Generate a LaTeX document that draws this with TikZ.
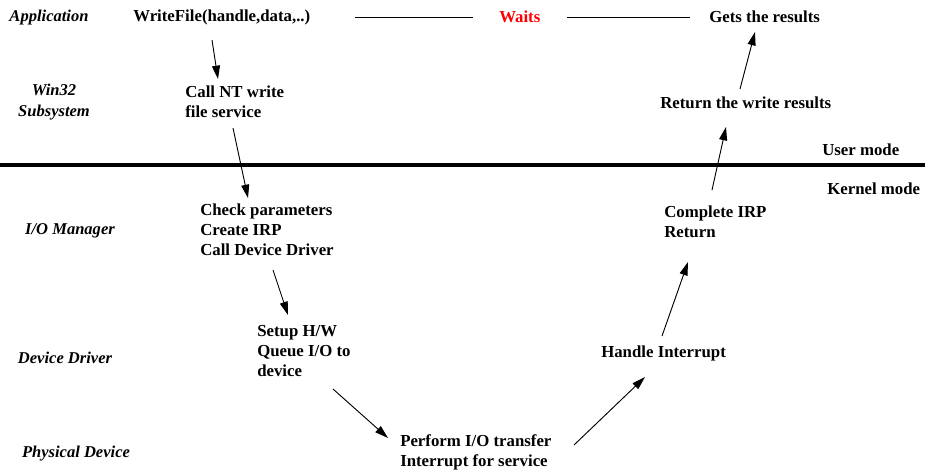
\documentclass[tikz,border=0pt]{standalone}
\usepackage{fontspec}
\setmainfont{Liberation Serif}
\usepackage{xcolor}
\usepackage{tikz}
\usetikzlibrary{arrows.meta, calc}
\definecolor{waitred}{RGB}{255,0,0}

\begin{document}
\begin{tikzpicture}[
    x=0.75pt, y=-0.75pt,
    every node/.style={font=\fontsize{12.6}{15}\selectfont\bfseries, inner sep=0pt},
    layer/.style={font=\fontsize{12.4}{15.5}\selectfont\bfseries\itshape, align=center},
    stage/.style={anchor=west, align=left},
    arr/.style={-{Triangle[length=10pt, width=6pt]}, line width=0.7pt}
]
\useasboundingbox (0,0) rectangle (925,469);

% layers on the left
\node[layer] (app) at (49,18) {Application};
\node[layer] (win) at (54,102) {Win32\\Subsystem};
\node[layer] (iomgr) at (70,231) {I/O Manager};
\node[layer] (drv) at (65,358) {Device Driver};
\node[layer] (phys) at (76,454) {Physical Device};

% steps of the write
\node[stage] (write) at (133,17) {WriteFile(handle,data,..)};
\node[stage] (callnt) at (185,102) {Call NT write\\file service};
\node[stage] (check) at (200,230) {Check parameters\\Create IRP\\Call Device Driver};
\node[stage] (setup) at (257,351) {Setup H/W\\Queue I/O to\\device};
\node[stage] (perform) at (400,452) {Perform I/O transfer\\Interrupt for service};
\node[stage] (handle) at (601,353) {Handle Interrupt};
\node[stage] (complete) at (664,222) {Complete IRP\\Return};
\node[stage] (retres) at (660,103) {Return the write results};
\node[stage] (gets) at (709,17) {Gets the results};
\node[stage, text=waitred] (waits) at (499,17) {Waits};

% modes
\node[stage] (user) at (822,150) {User mode};
\node[stage] (kernel) at (827,189) {Kernel mode};
\draw[line width=2.4pt] (0,165) -- (925,165);

% waiting
\draw[line width=0.7pt, shorten <=33pt, shorten >=19.5pt] (write.east) -- (write.east -| waits.west);
\draw[line width=0.7pt, shorten <=20pt, shorten >=14pt] (waits.east) -- (waits.east -| gets.west);

% down the stack
\draw[arr] ($(write.west)+(79,23)$) -- ($(callnt.west)+(33,-23)$);
\draw[arr] ($(callnt.west)+(48,26)$) -- ($(check.west)+(48,-32)$);
\draw[arr] ($(check.west)+(73,40)$) -- ($(setup.west)+(31,-36)$);
\draw[arr] ($(setup.west)+(76,38)$) -- ($(perform.west)+(-12,-14)$);

% back up
\draw[arr] ($(perform.west)+(174,-7)$) -- ($(handle.west)+(44,24)$);
\draw[arr] ($(handle.west)+(61,-17)$) -- ($(complete.west)+(24,40)$);
\draw[arr] ($(complete.west)+(48,-32)$) -- ($(retres.west)+(66,24)$);
\draw[arr] ($(retres.west)+(80,-14)$) -- ($(gets.west)+(46,15)$);

\end{tikzpicture}
\end{document}
